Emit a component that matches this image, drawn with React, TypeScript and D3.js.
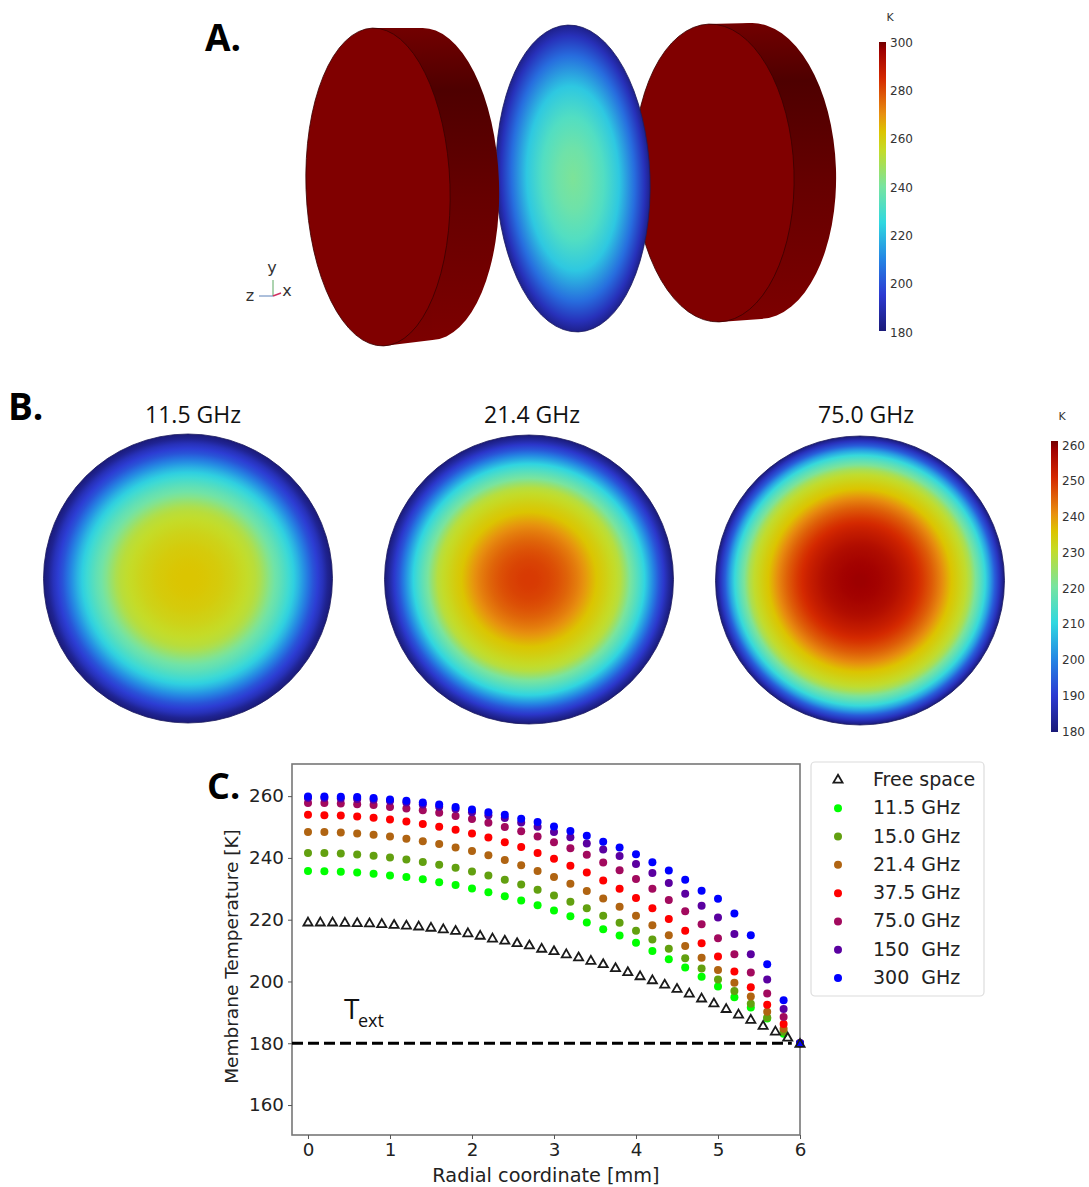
import React, { useEffect, useRef } from "react";
import * as d3 from "d3";

const width = 1089,
  height = 1187;

// radial samples, mm
const dotRadii = d3.range(31).map((i) => i * 0.2);
const freeRadii = d3.range(41).map((i) => i * 0.15);

const freeSpace = [
  219.3, 219.3, 219.3, 219.2, 219.1, 219.0, 218.8, 218.5, 218.3, 218.0, 217.6,
  217.1, 216.6, 215.8, 215.0, 214.1, 213.4, 212.6, 211.9, 210.8, 210.0, 209.0,
  208.0, 206.9, 205.8, 204.5, 203.2, 201.9, 200.6, 199.2, 197.8, 196.3, 194.7,
  193.1, 191.3, 189.5, 187.8, 185.8, 184.0, 182.0, 180.0,
];
const ghz11_5 = [
  235.8, 235.7, 235.5, 235.3, 234.9, 234.3, 233.8, 233.1, 232.1, 231.2, 230.1,
  228.9, 227.6, 226.2, 224.7, 223.0, 221.1, 219.1, 216.9, 214.9, 212.5, 209.9,
  207.2, 204.5, 201.5, 198.4, 194.9, 191.6, 188.0, 183.1, 180.0,
];
const ghz15 = [
  241.6, 241.6, 241.4, 241.1, 240.7, 240.1, 239.5, 238.7, 237.8, 236.8, 235.6,
  234.3, 232.9, 231.4, 229.7, 227.8, 225.8, 223.7, 221.3, 219.0, 216.4, 213.6,
  210.6, 207.5, 204.2, 200.6, 196.9, 192.8, 188.3, 183.7, 180.0,
];
const ghz21_4 = [
  248.4, 248.4, 248.2, 247.9, 247.5, 246.9, 246.2, 245.4, 244.5, 243.4, 242.2,
  240.9, 239.3, 237.6, 235.8, 233.8, 231.6, 229.3, 226.9, 224.2, 221.3, 218.2,
  215.0, 211.5, 207.7, 203.7, 199.6, 195.1, 190.2, 184.7, 180.0,
];
const ghz37_5 = [
  254.0, 253.8, 253.7, 253.4, 253.0, 252.4, 251.8, 251.0, 250.1, 249.1, 247.9,
  246.6, 245.1, 243.5, 241.6, 239.7, 237.5, 235.3, 232.7, 230.0, 227.0, 223.7,
  220.2, 216.4, 212.4, 208.1, 203.2, 198.1, 192.5, 186.2, 180.0,
];
const ghz75 = [
  257.8, 257.8, 257.6, 257.4, 257.1, 256.5, 256.0, 255.4, 254.6, 253.6, 252.6,
  251.4, 250.0, 248.6, 246.9, 245.1, 243.1, 241.0, 238.5, 236.0, 233.2, 230.0,
  226.4, 222.7, 218.5, 214.0, 208.8, 202.9, 196.1, 188.5, 180.0,
];
const ghz150 = [
  259.4, 259.4, 259.2, 259.1, 258.8, 258.4, 257.9, 257.3, 256.6, 255.8, 254.8,
  253.8, 252.9, 251.5, 250.1, 248.4, 246.7, 244.7, 242.7, 240.6, 238.0, 235.1,
  231.9, 228.4, 224.5, 220.7, 215.4, 208.8, 200.6, 191.1, 180.0,
];
const ghz300 = [
  259.9, 259.9, 259.8, 259.7, 259.4, 258.9, 258.5, 257.9, 257.3, 256.5, 255.7,
  254.8, 254.0, 252.7, 251.6, 250.2, 248.7, 247.2, 245.2, 243.4, 241.2, 238.6,
  235.9, 232.9, 229.4, 226.8, 222.0, 215.0, 205.6, 193.9, 180.0,
];

const seriesNames = ["11.5 GHz", "15.0 GHz", "21.4 GHz", "37.5 GHz", "75.0 GHz", "150  GHz", "300  GHz"];
const seriesValues = [ghz11_5, ghz15, ghz21_4, ghz37_5, ghz75, ghz150, ghz300];
const seriesColors = ["#00ff00", "#62a010", "#b06412", "#ff0000", "#a20a5e", "#5a00a0", "#0000ff"];

// membrane in the 3D view of panel A: fraction of the radius -> K
const membraneRadii = [0, 0.2, 0.4, 0.6, 0.8, 0.93, 1];
const membraneTemps = [241, 238, 232, 222, 205, 191, 183];

const ticksA = [180, 200, 220, 240, 260, 280, 300];
const ticksB = [180, 190, 200, 210, 220, 230, 240, 250, 260];
const ticksX = [0, 1, 2, 3, 4, 5, 6];
const ticksY = [160, 180, 200, 220, 240, 260];

// colour table shared by both colour bars, 0 = bottom, 1 = top
const colorStops = [0, 0.125, 0.25, 0.375, 0.5, 0.625, 0.69, 0.75, 0.875, 0.97, 1];
const colorValues = ["#1a1a78", "#2c3ad2", "#2486e4", "#30d8e0", "#78e4a0", "#c4dc28", "#dcc400", "#e89010", "#d42800", "#a00000", "#700000"];
const jet = d3.scaleLinear<string>().domain(colorStops).range(colorValues).interpolate(d3.interpolateRgb);

// how the maps in panel B read against the table (the rings sit a little off the bar)
const discTemps = [180, 196, 208, 218, 224, 236, 245, 260];
const discLevels = [0, 0.18, 0.375, 0.5, 0.6, 0.69, 0.81, 1];

const x = d3.scaleLinear().domain([-0.195, 6]).range([292, 800]);
const y = d3.scaleLinear().domain([150.3, 270.4]).range([1135, 764]);

const triangle = d3.symbol().type(d3.symbolTriangle).size(36)();
const openSans = "'Open Sans', sans-serif";
const dejavu = "'DejaVu Sans', sans-serif";

function Cylinder({ id, front, back }: any) {
  const tilt = -2 * (Math.PI / 180);
  const edge = (e: any, s: number) => [e.cx - s * e.ry * Math.sin(tilt), e.cy + s * e.ry * Math.cos(tilt)];
  const hull = [edge(front, -1), edge(back, -1), edge(back, 1), edge(front, 1)];
  return (
    <g>
      <linearGradient id={id} x1="0" y1="0" x2="0" y2="1">
        <stop offset="0" stopColor="#720000" />
        <stop offset="0.2" stopColor="#4e0000" />
        <stop offset="0.55" stopColor="#660000" />
        <stop offset="1" stopColor="#7c0000" />
      </linearGradient>
      <ellipse cx={back.cx} cy={back.cy} rx={back.rx} ry={back.ry} transform={`rotate(-2 ${back.cx} ${back.cy})`} fill={`url(#${id})`} />
      <polygon points={hull.map((p) => p.join(",")).join(" ")} fill={`url(#${id})`} />
      <ellipse cx={front.cx} cy={front.cy} rx={front.rx} ry={front.ry} transform={`rotate(-2 ${front.cx} ${front.cy})`} fill="#800000" stroke="#3a0000" strokeWidth={0.8} />
    </g>
  );
}

function ColorBar({ id, left, scale, ticks, top, bottom, kY }: any) {
  return (
    <g>
      <linearGradient id={id} x1="0" y1="1" x2="0" y2="0">
        {colorStops.map((t) => (
          <stop key={t} offset={t} stopColor={jet(t)} />
        ))}
      </linearGradient>
      <rect x={left} y={top} width={7} height={bottom - top} fill={`url(#${id})`} />
      <text x={left + 11} y={kY} fontFamily={dejavu} fontSize={11} fill="#333" textAnchor="middle">K</text>
      {ticks.map((t: number) => (
        <text key={t} x={left + 11} y={scale(t) + 4.5} fontFamily={dejavu} fontSize={12} fill="#333">{t}</text>
      ))}
    </g>
  );
}

function Disc({ id, cx, cy, title, titleX, radii, temps }: any) {
  const level = d3.scaleLinear().domain(discTemps).range(discLevels);
  return (
    <g>
      <radialGradient id={id}>
        {radii.map((r: number, i: number) => (
          <stop key={r} offset={r / 6} stopColor={jet(level(temps[i]))} />
        ))}
      </radialGradient>
      <circle cx={cx} cy={cy} r={144.5} fill={`url(#${id})`} stroke="#1c1c60" strokeWidth={0.8} />
      <text x={titleX} y={423} textAnchor="middle" fontFamily={openSans} fontSize={23} fill="#111">{title}</text>
    </g>
  );
}

export default function App() {
  const xAxisRef = useRef<SVGGElement>(null);
  const yAxisRef = useRef<SVGGElement>(null);

  useEffect(() => {
    const style = (g: any) => {
      g.selectAll(".domain").remove();
      g.selectAll("line").attr("stroke", "#555").attr("stroke-width", 1);
      g.selectAll("text").attr("font-family", "DejaVu Sans").attr("font-size", 18.3).attr("fill", "#222");
    };
    d3.select(xAxisRef.current as any)
      .call(d3.axisBottom(x).tickValues(ticksX).tickFormat(d3.format("d")).tickSize(4).tickPadding(4) as any)
      .call(style);
    d3.select(yAxisRef.current as any)
      .call(d3.axisLeft(y).tickValues(ticksY).tickFormat(d3.format("d")).tickSize(4).tickPadding(4) as any)
      .call(style);
  }, []);

  const membraneColor = d3.scaleLinear().domain([180, 300]).range([0, 1]);
  const legendY = d3.scalePoint<number>().domain(d3.range(8)).range([780, 978]);
  const refLine = d3.line()([
    [x.range()[0], y(180)],
    [x(5.9), y(180)],
  ]) as string;

  return (
    <svg width={width} height={height} style={{ position: "absolute", left: 0, top: 0, display: "block", background: "#fff" }}>
      {/* A: 3D view */}
      <text x={205} y={51} fontFamily={openSans} fontWeight={700} fontSize={37} fill="#000">A.</text>
      <Cylinder id="sideR" front={{ cx: 714, cy: 173, rx: 80, ry: 149 }} back={{ cx: 756, cy: 171, rx: 80, ry: 148 }} />
      <radialGradient id="membrane">
        {membraneRadii.map((r, i) => (
          <stop key={r} offset={r} stopColor={jet(membraneColor(membraneTemps[i]))} />
        ))}
      </radialGradient>
      <ellipse cx={573} cy={178.5} rx={77} ry={153.5} transform="rotate(-2 573 178.5)" fill="url(#membrane)" stroke="#1c1c60" strokeWidth={0.8} />
      <Cylinder id="sideL" front={{ cx: 378, cy: 187, rx: 72, ry: 159 }} back={{ cx: 427, cy: 184, rx: 72, ry: 156 }} />

      <g fontFamily={dejavu} fontSize={16} fill="#333">
        <text x={272} y={273} textAnchor="middle">y</text>
        <text x={287} y={296} textAnchor="middle">x</text>
        <text x={250} y={301} textAnchor="middle">z</text>
      </g>
      <path d="M273 296V280" stroke="#5aa860" strokeWidth={1} />
      <path d="M273 296H259" stroke="#5a80b8" strokeWidth={1} />
      <path d="M273 296L281 293" stroke="#d03060" strokeWidth={1.5} />

      <ColorBar id="barA" left={879} scale={d3.scaleLinear().domain([180, 300]).range([332, 42])} ticks={ticksA} top={42} bottom={331} kY={21} />

      {/* B: membrane maps */}
      <text x={8} y={420} fontFamily={openSans} fontWeight={700} fontSize={37} fill="#000">B.</text>
      <Disc id="disc11" cx={188} cy={578.5} title="11.5 GHz" titleX={193} radii={dotRadii} temps={ghz11_5} />
      <Disc id="disc21" cx={529} cy={579.5} title="21.4 GHz" titleX={532} radii={dotRadii} temps={ghz21_4} />
      <Disc id="disc75" cx={860} cy={580.5} title="75.0 GHz" titleX={866} radii={dotRadii} temps={ghz75} />
      <ColorBar id="barB" left={1051} scale={d3.scaleLinear().domain([180, 260]).range([731, 445])} ticks={ticksB} top={441} bottom={732} kY={420} />

      {/* C: radial profiles */}
      <rect x={x.range()[0]} y={y.range()[1]} width={x.range()[1] - x.range()[0]} height={y.range()[0] - y.range()[1]} fill="none" stroke="#777" strokeWidth={1.6} />
      <g ref={xAxisRef} transform={`translate(0,${y.range()[0]})`} />
      <g ref={yAxisRef} transform={`translate(${x.range()[0]},0)`} />
      {seriesValues.map((values, s) => (
        <g key={s} fill={seriesColors[s]}>
          {values.map((v, i) => (
            <circle key={i} cx={x(dotRadii[i])} cy={y(v)} r={4} />
          ))}
        </g>
      ))}
      {freeSpace.map((v, i) => (
        <path key={i} d={triangle as string} transform={`translate(${x(freeRadii[i])},${y(v) + 1})`} fill="none" stroke="#1a1a1a" strokeWidth={1.8} />
      ))}
      <path d={refLine} stroke="#000" strokeWidth={3} strokeDasharray="11 5" fill="none" />
      <text x={344} y={1019} fontFamily={openSans} fontSize={28} fill="#111">T</text>
      <text x={358} y={1027} fontFamily={openSans} fontSize={18} fill="#111">ext</text>
      <text x={546} y={1182} textAnchor="middle" fontFamily={dejavu} fontSize={19.3} fill="#222">Radial coordinate [mm]</text>
      <text transform="translate(238,956.5) rotate(-90)" textAnchor="middle" fontFamily={dejavu} fontSize={18.5} fill="#222">Membrane Temperature [K]</text>
      <text x={207} y={799} fontFamily={openSans} fontWeight={700} fontSize={36} fill="#000">C.</text>

      <rect x={811} y={762} width={173} height={234} rx={4} fill="#fff" stroke="#dcdcdc" strokeWidth={1.2} />
      <path d={triangle as string} transform={`translate(838,${legendY(0)})`} fill="none" stroke="#1a1a1a" strokeWidth={1.8} />
      <text x={873} y={(legendY(0) as number) + 5.5} fontFamily={dejavu} fontSize={19} fill="#222">Free space</text>
      {seriesNames.map((name, s) => (
        <g key={name}>
          <circle cx={838} cy={legendY(s + 1)} r={4} fill={seriesColors[s]} />
          <text x={873} y={(legendY(s + 1) as number) + 6} fontFamily={dejavu} fontSize={19} fill="#222" style={{ whiteSpace: "pre" }}>{name}</text>
        </g>
      ))}
    </svg>
  );
}
